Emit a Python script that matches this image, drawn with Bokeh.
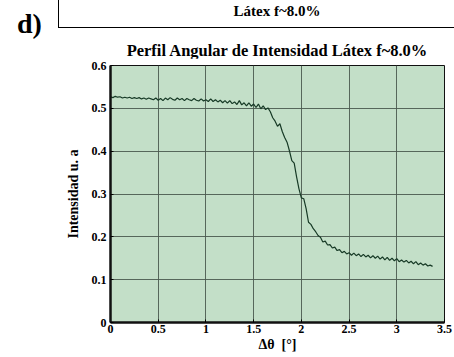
from bokeh.plotting import figure
from bokeh.models import Div, Range1d, FixedTicker
from bokeh.layouts import column
from bokeh.embed import file_html
from bokeh.resources import INLINE

# Angular intensity profile, latex f~8.0%
delta_theta = [
    0.000, 0.025, 0.050, 0.075, 0.100, 0.125, 0.150, 0.175, 0.200, 0.225,
    0.250, 0.275, 0.300, 0.325, 0.350, 0.375, 0.400, 0.425, 0.450, 0.475,
    0.500, 0.525, 0.550, 0.575, 0.600, 0.625, 0.650, 0.675, 0.700, 0.725,
    0.750, 0.775, 0.800, 0.825, 0.850, 0.875, 0.900, 0.925, 0.950, 0.975,
    1.000, 1.025, 1.050, 1.075, 1.100, 1.125, 1.150, 1.175, 1.200, 1.225,
    1.250, 1.275, 1.300, 1.325, 1.350, 1.375, 1.400, 1.425, 1.450, 1.475,
    1.500, 1.525, 1.550, 1.575, 1.600, 1.625, 1.650, 1.675, 1.700, 1.725,
    1.750, 1.775, 1.800, 1.825, 1.850, 1.875, 1.900, 1.925, 1.950, 1.975,
    2.000, 2.025, 2.050, 2.075, 2.100, 2.125, 2.150, 2.175, 2.200, 2.225,
    2.250, 2.275, 2.300, 2.325, 2.350, 2.375, 2.400, 2.425, 2.450, 2.475,
    2.500, 2.525, 2.550, 2.575, 2.600, 2.625, 2.650, 2.675, 2.700, 2.725,
    2.750, 2.775, 2.800, 2.825, 2.850, 2.875, 2.900, 2.925, 2.950, 2.975,
    3.000, 3.025, 3.050, 3.075, 3.100, 3.125, 3.150, 3.175, 3.200, 3.225,
    3.250, 3.275, 3.300, 3.325, 3.350, 3.375,
]
intensity = [
    0.527, 0.525, 0.528, 0.526, 0.527, 0.524, 0.526, 0.524, 0.526, 0.523,
    0.525, 0.523, 0.525, 0.522, 0.524, 0.521, 0.524, 0.522, 0.520, 0.524,
    0.519, 0.523, 0.518, 0.524, 0.520, 0.525, 0.521, 0.519, 0.524, 0.520,
    0.523, 0.518, 0.523, 0.520, 0.518, 0.523, 0.519, 0.517, 0.522, 0.517,
    0.520, 0.516, 0.522, 0.516, 0.520, 0.515, 0.519, 0.513, 0.518, 0.512,
    0.518, 0.511, 0.515, 0.509, 0.518, 0.508, 0.513, 0.506, 0.513, 0.505,
    0.510, 0.502, 0.510, 0.499, 0.506, 0.497, 0.501, 0.492, 0.478, 0.470,
    0.458, 0.464, 0.446, 0.432, 0.421, 0.401, 0.378, 0.372, 0.340, 0.312,
    0.291, 0.289, 0.266, 0.234, 0.229, 0.219, 0.212, 0.203, 0.199, 0.188,
    0.190, 0.181, 0.182, 0.174, 0.176, 0.168, 0.170, 0.163, 0.166, 0.160,
    0.163, 0.157, 0.162, 0.156, 0.160, 0.154, 0.159, 0.153, 0.157, 0.151,
    0.156, 0.150, 0.155, 0.148, 0.153, 0.146, 0.152, 0.145, 0.150, 0.144,
    0.149, 0.142, 0.146, 0.141, 0.145, 0.139, 0.143, 0.137, 0.142, 0.135,
    0.139, 0.134, 0.137, 0.132, 0.134, 0.131,
]

x_ticks = [0, 0.5, 1, 1.5, 2, 2.5, 3, 3.5]
x_tick_labels = ["0", "0.5", "1", "1.5", "2", "2.5", "3", "3.5"]
y_ticks = [0, 0.1, 0.2, 0.3, 0.4, 0.5, 0.6]
y_tick_labels = ["0", "0.1", "0.2", "0.3", "0.4", "0.5", "0.6"]

SERIF = "Liberation Serif"

# Panel letter, boxed caption and the plot title above the axes
header = Div(
    width=454, height=58, margin=0,
    text=(
        f'<div style="position:relative;width:454px;height:58px;'
        f'font-family:\'{SERIF}\',serif;font-weight:bold;color:#000;">'
        '<div style="position:absolute;left:58px;top:0;width:396px;height:28px;'
        'border-left:1.5px solid #000;border-bottom:1.5px solid #000;"></div>'
        '<div style="position:absolute;left:277px;top:4px;transform:translateX(-50%);'
        'font-size:15px;line-height:1;white-space:nowrap;">Látex f~8.0%</div>'
        '<div style="position:absolute;left:17px;top:10px;font-size:28px;'
        'line-height:1;">d)</div>'
        '<div style="position:absolute;left:277px;top:43px;transform:translateX(-50%);'
        'font-size:16.5px;line-height:1;white-space:nowrap;">'
        'Perfil Angular de Intensidad Látex f~8.0%</div>'
        '</div>'
    ),
)

p = figure(
    width=454, height=299, output_backend="svg", toolbar_location=None,
    x_range=Range1d(0, 3.5), y_range=Range1d(0, 0.6),
    min_border_left=110, min_border_right=10,
    min_border_top=7, min_border_bottom=35,
    background_fill_color="#c3dfc8", border_fill_color="white",
    outline_line_color="#111111", outline_line_width=1,
)

p.line(delta_theta, intensity, line_color="#173a26", line_width=1.2)

for ax, ticks, labels in ((p.xaxis[0], x_ticks, x_tick_labels),
                          (p.yaxis[0], y_ticks, y_tick_labels)):
    ax.ticker = FixedTicker(ticks=ticks)
    ax.major_label_overrides = dict(zip(ticks, labels))
    ax.axis_line_color = "#111111"
    ax.axis_line_width = 2.5
    ax.major_tick_in = 3
    ax.major_tick_out = 0
    ax.minor_tick_line_color = None
    ax.major_label_text_font = SERIF
    ax.major_label_text_font_style = "bold"
    ax.major_label_text_font_size = "12px"
    ax.major_label_text_color = "#000000"
    ax.axis_label_text_font = SERIF
    ax.axis_label_text_font_style = "bold"
    ax.axis_label_text_font_size = "14px"
    ax.axis_label_text_color = "#000000"

p.xaxis.axis_label = "Δθ\u00a0\u00a0[°]"
p.xaxis.major_label_standoff = 2
p.xaxis.axis_label_standoff = 1
p.yaxis.axis_label = "Intensidad u. a"
p.yaxis.major_label_standoff = 4
p.yaxis.axis_label_standoff = 8

p.grid.grid_line_color = "#4a5a4f"
p.grid.grid_line_width = 1
p.grid.grid_line_alpha = 0.9

layout = column(header, p, spacing=0)
open("out.html", "w").write(file_html(layout, INLINE))
